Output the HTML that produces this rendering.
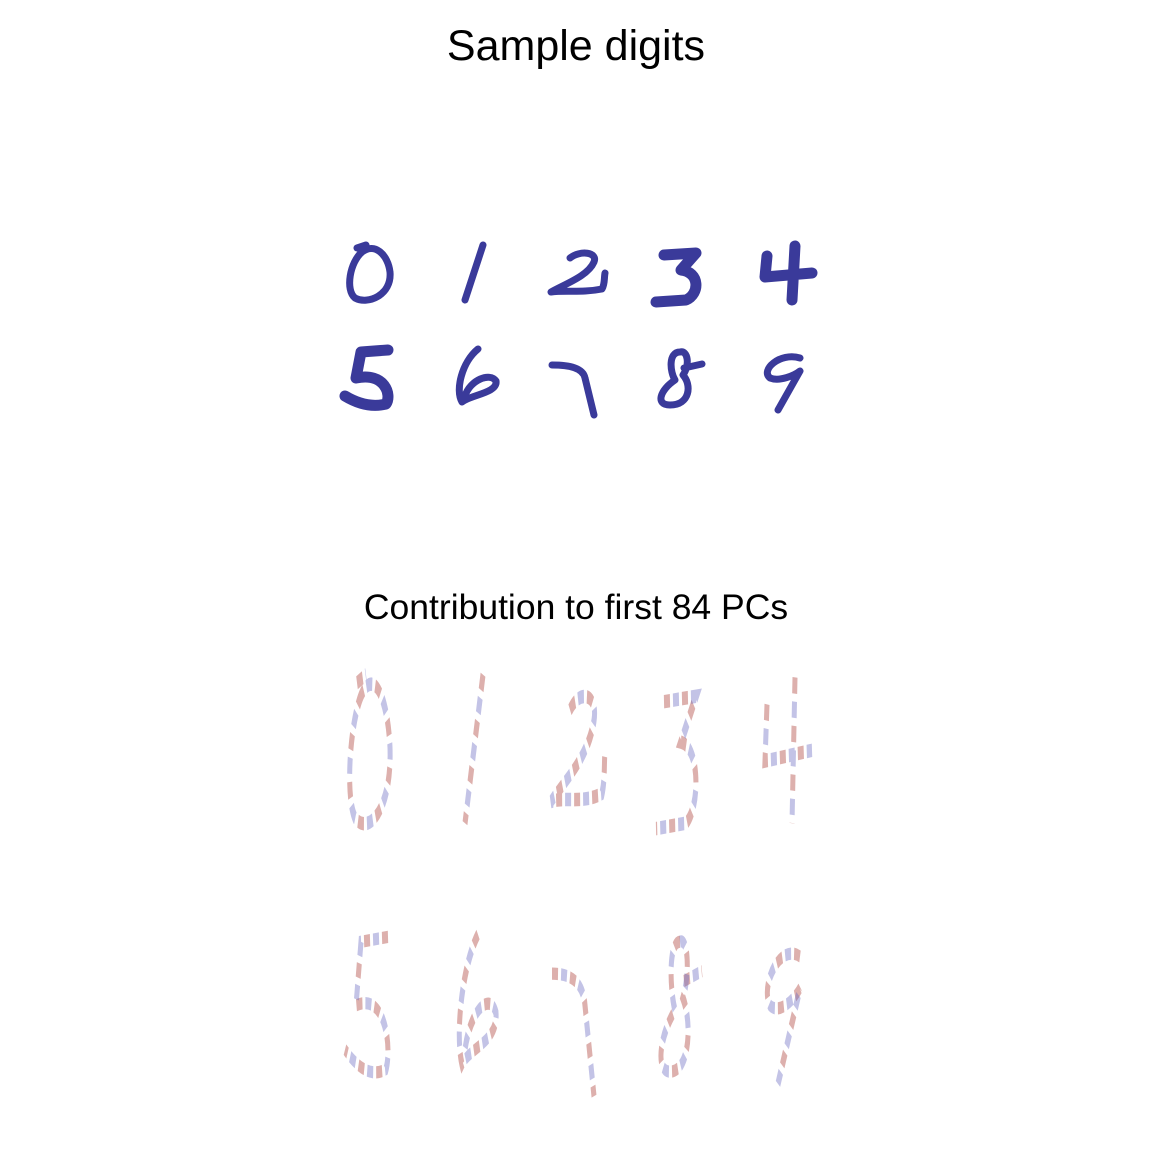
<!DOCTYPE html>
<html><head><meta charset="utf-8"><style>
body{margin:0;background:#fff}
svg{display:block}
text{font-family:"Liberation Sans",sans-serif;fill:#000}
.d{fill:none;stroke:#3a3a9a;stroke-width:7;stroke-linecap:round;stroke-linejoin:round}
.t{stroke-width:11}
.r{fill:none;stroke:#b4504a;stroke-opacity:.45;stroke-width:5;stroke-dasharray:6 12;vector-effect:non-scaling-stroke}
.b{fill:none;stroke:#6a6ac0;stroke-opacity:.4;stroke-width:5;stroke-dasharray:6 12;stroke-dashoffset:9;vector-effect:non-scaling-stroke}
</style></head><body>
<svg width="1152" height="1152" viewBox="0 0 1152 1152">
<defs>
<path id="p0" d="M362,252 C350,262 345,290 355,298 C368,305 392,295 390,272 C388,255 375,242 362,252 M357,248 L366,245"/>
<path id="p1" d="M483,245 L465,300"/>
<path id="p2" d="M570,258 C580,250 598,252 594,262 C588,276 565,284 551,292 C565,290 582,293 602,289 C605,284 604,278 605,273"/>
<path id="p3" d="M664,255 L696,253 L681,270 C700,272 700,294 686,300 L656,302"/>
<path id="p4" d="M767,256 L765,277 L812,273 M795,246 L792,300"/>
<path id="p5" d="M388,350 L361,352 L356,378 C385,372 392,395 386,404 C370,408 355,402 345,396"/>
<path id="p6" d="M478,349 C462,362 455,390 462,402 C470,395 498,393 496,381 C490,372 470,380 465,396"/>
<path id="p7" d="M552,365 C570,365 583,368 585,378 L594,415"/>
<path id="p8" d="M680,352 C668,352 670,372 675,380 C660,390 655,405 670,405 C690,405 692,385 683,375 C690,365 688,350 680,352 M684,368 L702,364"/>
<path id="p9" d="M800,358 C780,352 760,370 770,378 C780,382 795,375 800,371 L778,410"/>
</defs>
<text x="576" y="60" font-size="43" text-anchor="middle">Sample digits</text>
<g>
<use href="#p0" class="d"/><use href="#p1" class="d"/><use href="#p2" class="d"/><use href="#p3" class="d t"/><use href="#p4" class="d t"/>
<use href="#p5" class="d t"/><use href="#p6" class="d"/><use href="#p7" class="d"/><use href="#p8" class="d"/><use href="#p9" class="d"/>
</g>
<text x="576" y="619" font-size="35.5" text-anchor="middle">Contribution to first 84 PCs</text>
<g transform="translate(0,13.2) scale(1,2.7)">
<use href="#p0" class="r"/><use href="#p0" class="b"/>
<use href="#p1" class="r"/><use href="#p1" class="b"/>
<use href="#p2" class="r"/><use href="#p2" class="b"/>
<use href="#p3" class="r"/><use href="#p3" class="b"/>
<use href="#p4" class="r"/><use href="#p4" class="b"/>
</g>
<g transform="translate(0,79.4) scale(1,2.45)">
<use href="#p5" class="r"/><use href="#p5" class="b"/>
<use href="#p6" class="r"/><use href="#p6" class="b"/>
<use href="#p7" class="r"/><use href="#p7" class="b"/>
<use href="#p8" class="r"/><use href="#p8" class="b"/>
<use href="#p9" class="r"/><use href="#p9" class="b"/>
</g>
</svg>
</body></html>
